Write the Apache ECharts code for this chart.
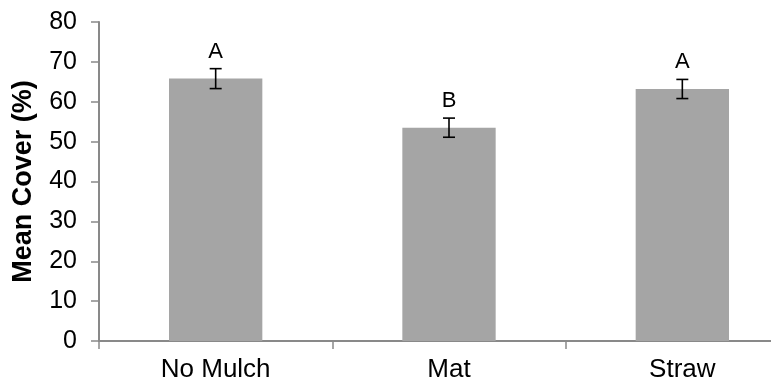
<!DOCTYPE html>
<html><head><meta charset="utf-8">
<script src="https://cdn.jsdelivr.net/npm/echarts@6/dist/echarts.min.js"></script>
<style>html,body{margin:0;padding:0;background:#fff}#c{width:771px;height:385px}</style>
</head><body><div id="c"></div>
<script>
const categories = ['No Mulch', 'Mat', 'Straw'];
const meanCover = [65.8, 53.5, 63.2];
const stdErr = [2.5, 2.4, 2.4];
const groupLetters = ['A', 'B', 'A'];
const yMin = 0, yMax = 80, yStep = 10;

const FONT = '"Liberation Sans", Arial, sans-serif';
const AXIS_COLOR = '#898989';
const chart = echarts.init(document.getElementById('c'), null, {renderer: 'canvas'});
chart.setOption({
  animation: false,
  backgroundColor: '#fff',
  textStyle: {fontFamily: FONT},
  grid: {left: 99, top: 22, width: 700, height: 319, containLabel: false, outerBoundsMode: 'none'},
  xAxis: {
    type: 'category',
    data: categories,
    axisLine: {show: true, lineStyle: {color: AXIS_COLOR, width: 2}},
    axisTick: {show: true, alignWithLabel: false, length: 8, lineStyle: {color: AXIS_COLOR, width: 1.5}},
    axisLabel: {fontSize: 26, color: '#000', margin: 16, fontFamily: FONT},
    splitLine: {show: false}
  },
  yAxis: {
    type: 'value',
    min: yMin, max: yMax, interval: yStep,
    name: 'Mean Cover (%)',
    nameLocation: 'middle',
    nameGap: 62,
    nameTextStyle: {fontSize: 27, fontWeight: 'bold', color: '#000', fontFamily: FONT},
    axisLine: {show: true, lineStyle: {color: AXIS_COLOR, width: 2}},
    axisTick: {show: true, inside: false, length: 8, lineStyle: {color: AXIS_COLOR, width: 1.5}},
    axisLabel: {fontSize: 25, color: '#000', margin: 22, fontFamily: FONT},
    splitLine: {show: false}
  },
  series: [
    {
      type: 'bar',
      data: meanCover,
      barWidth: '40%',
      itemStyle: {color: '#a5a5a5'},
      z: 2
    },
    {
      type: 'custom',
      data: categories.map((c, i) => [i, meanCover[i], stdErr[i]]),
      z: 5,
      renderItem: function (params, api) {
        const x = api.value(0), m = api.value(1), e = api.value(2);
        const top = api.coord([x, m + e]);
        const bot = api.coord([x, m - e]);
        const cx = top[0], hw = 6;
        const st = {stroke: '#000', lineWidth: 1.6};
        return {
          type: 'group',
          children: [
            {type: 'line', shape: {x1: cx, y1: top[1], x2: cx, y2: bot[1]}, style: st},
            {type: 'line', shape: {x1: cx - hw, y1: top[1], x2: cx + hw, y2: top[1]}, style: st},
            {type: 'line', shape: {x1: cx - hw, y1: bot[1], x2: cx + hw, y2: bot[1]}, style: st},
            {type: 'text', x: cx, y: top[1] - 17,
             style: {text: groupLetters[params.dataIndex], fontSize: 22, fontFamily: FONT, fill: '#000', align: 'center', verticalAlign: 'middle'}}
          ]
        };
      }
    }
  ]
});
</script>
</body></html>
